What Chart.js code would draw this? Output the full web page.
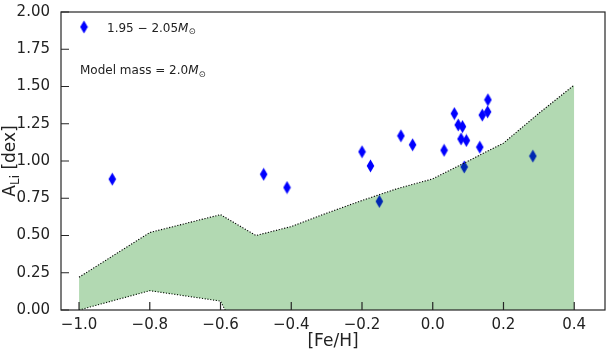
<!DOCTYPE html>
<html><head><meta charset="utf-8">
<script src="https://cdn.jsdelivr.net/npm/chart.js@4"></script>
<style>html,body{margin:0;padding:0;background:#fff}</style>
</head><body>
<canvas id="c" width="612" height="353" style="width:612px;height:353px;display:block"></canvas>
<script>
// Model band (2.0 Msun): [Fe/H] grid, upper & lower A(Li)
const modelFeH   = [-1.0,-0.9,-0.8,-0.7,-0.6,-0.5,-0.4,-0.3,-0.2,-0.1,0.0,0.1,0.2,0.3,0.4];
const modelUpper = [0.22,0.37,0.52,0.58,0.64,0.50,0.56,0.65,0.735,0.815,0.88,1.00,1.12,1.32,1.51];
const modelLower = [0.00,0.065,0.13,0.095,0.06,-0.40,-0.38,-0.35,-0.32,-0.28,-0.25,-0.22,-0.18,-0.14,-0.10];
// Observed stars, 1.95-2.05 Msun
const starFeH = [-0.906,-0.478,-0.412,-0.200,-0.176,-0.151,-0.090,-0.057,0.032,0.061,0.072,0.084,0.080,0.095,0.089,0.133,0.140,0.156,0.155,0.283];
const starALi = [0.878,0.911,0.822,1.062,0.967,0.729,1.169,1.109,1.072,1.318,1.242,1.231,1.148,1.138,0.960,1.093,1.308,1.411,1.330,1.033];
// Ticks
const xTicks = [-1.0,-0.8,-0.6,-0.4,-0.2,0.0,0.2,0.4];
const yTicks = [0,0.25,0.5,0.75,1.0,1.25,1.5,1.75,2.0];
const legendLabel = '1.95 \u2212 2.05';
const noteLabel = 'Model mass = 2.0';

const FONT = "'DejaVu Sans', sans-serif";
const fmt = (v, d) => { const s = Math.abs(v).toFixed(d); return (v < -1e-9 ? '\u2212' : '') + s; };

// thin diamond marker
function makeDiamond(color) {
  const c = document.createElement('canvas');
  c.width = 9; c.height = 14;
  const g = c.getContext('2d');
  g.fillStyle = color;
  g.beginPath();
  g.moveTo(4.5, 0.5); g.lineTo(8.3, 7); g.lineTo(4.5, 13.5); g.lineTo(0.7, 7); g.closePath();
  g.fill();
  return c;
}
const diamond = makeDiamond('#0000ff');

function drawParts(ctx, parts, x, y) {
  let cx = x;
  parts.forEach(p => {
    ctx.font = p.font;
    ctx.fillText(p.t, cx, y + (p.dy || 0));
    cx += ctx.measureText(p.t).width;
  });
  return cx;
}
function partsWidth(ctx, parts) {
  let w = 0;
  parts.forEach(p => { ctx.font = p.font; w += ctx.measureText(p.t).width; });
  return w;
}

const deco = {
  id: 'deco',
  afterDraw(chart) {
    const { ctx, chartArea: a, scales: { x, y } } = chart;
    ctx.save();
    ctx.strokeStyle = '#262626';
    ctx.lineWidth = 1.2;
    ctx.strokeRect(a.left, a.top, a.right - a.left, a.bottom - a.top);
    ctx.beginPath();
    xTicks.forEach(v => { const px = x.getPixelForValue(v); ctx.moveTo(px, a.bottom); ctx.lineTo(px, a.bottom - 8); });
    yTicks.forEach(v => { const py = y.getPixelForValue(v); ctx.moveTo(a.left, py); ctx.lineTo(a.left + 8, py); });
    ctx.stroke();

    ctx.fillStyle = '#222';
    ctx.textBaseline = 'alphabetic';
    ctx.textAlign = 'left';
    // y axis title: A_Li [dex]
    const yParts = [
      { t: 'A', font: '17px ' + FONT },
      { t: 'Li', font: '12px ' + FONT, dy: 4 },
      { t: ' [dex]', font: '17px ' + FONT }
    ];
    ctx.save();
    ctx.translate(15, (a.top + a.bottom) / 2);
    ctx.rotate(-Math.PI / 2);
    const w = partsWidth(ctx, yParts);
    drawParts(ctx, yParts, -w / 2, 0);
    ctx.restore();

    // legend
    ctx.drawImage(diamond, 84 - 4.5, 27 - 7);
    ctx.fillStyle = '#222';
    drawParts(ctx, [
      { t: legendLabel, font: '12px ' + FONT },
      { t: 'M', font: 'italic 12px ' + FONT },
      { t: '\u2299', font: '8.5px ' + FONT, dy: 2.5 }
    ], 107, 31.5);
    drawParts(ctx, [
      { t: noteLabel, font: '12px ' + FONT },
      { t: 'M', font: 'italic 12px ' + FONT },
      { t: '\u2299', font: '8.5px ' + FONT, dy: 2.5 }
    ], 80, 74);
    ctx.restore();
  }
};

const pts = starFeH.map((v, i) => ({ x: v, y: starALi[i] }));
const lowerPts = modelFeH.map((v, i) => ({ x: v, y: modelLower[i] }));
const upperPts = modelFeH.map((v, i) => ({ x: v, y: modelUpper[i] }));

new Chart(document.getElementById('c'), {
  type: 'scatter',
  data: {
    datasets: [
      { label: '1.95-2.05 Msun', data: pts, pointStyle: diamond, pointRadius: 6, order: 5, showLine: false },
      { label: 'lower', type: 'line', data: lowerPts, showLine: true, borderColor: '#000', borderWidth: 1.1,
        borderDash: [1.2, 1.6], pointRadius: 0, fill: false, order: 1, tension: 0 },
      { label: 'upper', type: 'line', data: upperPts, showLine: true, borderColor: '#000', borderWidth: 1.1,
        borderDash: [1.2, 1.6], pointRadius: 0, fill: 1, backgroundColor: 'rgba(0,128,0,0.3)', order: 0, tension: 0 }
    ]
  },
  options: {
    responsive: false,
    animation: false,
    devicePixelRatio: 1,
    layout: { padding: { left: 0, right: 6, top: 10, bottom: 0 } },
    plugins: { legend: { display: false }, tooltip: { enabled: false }, filler: { propagate: false } },
    scales: {
      x: {
        type: 'linear', min: -1.051, max: 0.487,
        grid: { display: false }, border: { display: false },
        afterBuildTicks: s => { s.ticks = xTicks.map(v => ({ value: v })); },
        afterFit: s => { s.height = 43; },
        ticks: { callback: v => fmt(v, 1), font: { family: FONT, size: 15 }, color: '#222', padding: -2, maxRotation: 0, autoSkip: false },
        title: { display: true, text: '[Fe/H]', font: { family: FONT, size: 17 }, color: '#222', padding: { top: 0, bottom: 1 } }
      },
      y: {
        type: 'linear', min: 0, max: 2.0,
        grid: { display: false }, border: { display: false },
        afterBuildTicks: s => { s.ticks = yTicks.map(v => ({ value: v })); },
        afterFit: s => { s.width = 61; },
        ticks: { callback: v => fmt(v, 2), font: { family: FONT, size: 15 }, color: '#222', padding: 3, autoSkip: false }
      }
    }
  },
  plugins: [deco]
});
</script>
</body></html>
